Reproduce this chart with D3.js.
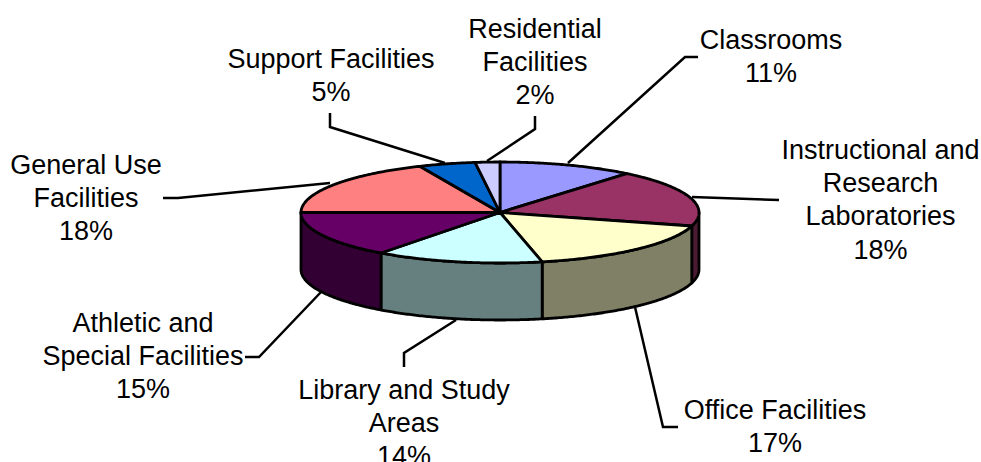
<!DOCTYPE html>
<html>
<head>
<meta charset="utf-8">
<style>html,body{margin:0;padding:0;background:#fff}svg{display:block}</style>
<script src="https://cdn.jsdelivr.net/npm/d3@7"></script>
</head>
<body>
<svg id="c" width="981" height="462"></svg>
<script>
const categories = ["Classrooms","Instructional and Research Laboratories","Office Facilities","Library and Study Areas","Athletic and Special Facilities","General Use Facilities","Support Facilities","Residential Facilities"];
const shares = [11.0,18.3,17.3,13.6,14.8,18.4,4.6,2.0];
const percentLabels = ["11%","18%","17%","14%","15%","18%","5%","2%"];
const labelLines = [["Classrooms"],["Instructional and","Research","Laboratories"],["Office Facilities"],["Library and Study","Areas"],["Athletic and","Special Facilities"],["General Use","Facilities"],["Support Facilities"],["Residential","Facilities"]];
const topColors = ["#9999FF","#993366","#FFFFCC","#CCFFFF","#660066","#FF8080","#0066CC","#CCCCFF"];
const sideColors = ["#4D4D80","#4D1A33","#808066","#668080","#330033","#804040","#003366","#666680"];

// layout
const labelCenterX = [771,880.5,775,404,143,86,331,535];
const labelFirstBaseline = [48.5,158.5,418.5,398.5,331.5,173.5,67.5,37.5];
const lineStep = 33.4;
const leaders = [
  [[698,57],[685,57],[568,163]],
  [[779,200],[692,197]],
  [[678,427],[663,427],[635,307]],
  [[404,367],[404,353],[456,320]],
  [[245,357],[259,357],[322,291]],
  [[163,198],[178,198],[330,183]],
  [[330,113],[330,127],[445,163]],
  [[535,116],[535,129],[487,161]]
];
const cx = 500, cy = 212.5, rx = 199, ry = 50.5, depth = 57;

const svg = d3.select("#c");
const px = d3.scaleLinear().domain([-1,1]).range([cx-rx,cx+rx]);
const py = d3.scaleLinear().domain([-1,1]).range([cy+ry,cy-ry]);
const pts = (a0,a1,dy=0) => {
  const n = Math.max(2,Math.ceil(Math.abs(a1-a0)/0.01));
  return d3.range(n+1).map(i=>{const a=a0+(a1-a0)*i/n;return [px(Math.sin(a)),py(Math.cos(a))+dy];});
};
const line = d3.line();
const arcs = d3.pie().sort(null).value(d=>d)(shares);

// leaders
svg.append("g").selectAll("path").data(leaders).join("path")
  .attr("d",d=>line(d)).attr("fill","none").attr("stroke","#000").attr("stroke-width",2.5);

// sides (front half only)
const front0 = Math.PI/2, front1 = 3*Math.PI/2;
const sides = arcs.map((d,i)=>({i,a0:Math.max(d.startAngle,front0),a1:Math.min(d.endAngle,front1)})).filter(d=>d.a1>d.a0);
svg.append("g").selectAll("path").data(sides).join("path")
  .attr("d",d=>line(pts(d.a0,d.a1).concat(pts(d.a1,d.a0,depth)))+"Z")
  .attr("fill",d=>sideColors[d.i]).attr("stroke","#000").attr("stroke-width",2.8).attr("stroke-linejoin","round");

// top
svg.append("g").selectAll("path").data(arcs).join("path")
  .attr("d",d=>line([[cx,cy]].concat(pts(d.startAngle,d.endAngle)))+"Z")
  .attr("fill",(d,i)=>topColors[i]).attr("stroke","#000").attr("stroke-width",2.8).attr("stroke-linejoin","round");

// labels
const tg = svg.append("g").attr("font-family","'Liberation Sans',Arial,sans-serif").attr("font-size",27).attr("fill","#000").attr("text-anchor","middle");
categories.forEach((c,i)=>{
  const lines = labelLines[i].concat([percentLabels[i]]);
  const t = tg.append("text").attr("data-category",c);
  lines.forEach((s,j)=>t.append("tspan").attr("x",labelCenterX[i]).attr("y",labelFirstBaseline[i]+j*lineStep).text(s));
});
</script>
</body>
</html>
